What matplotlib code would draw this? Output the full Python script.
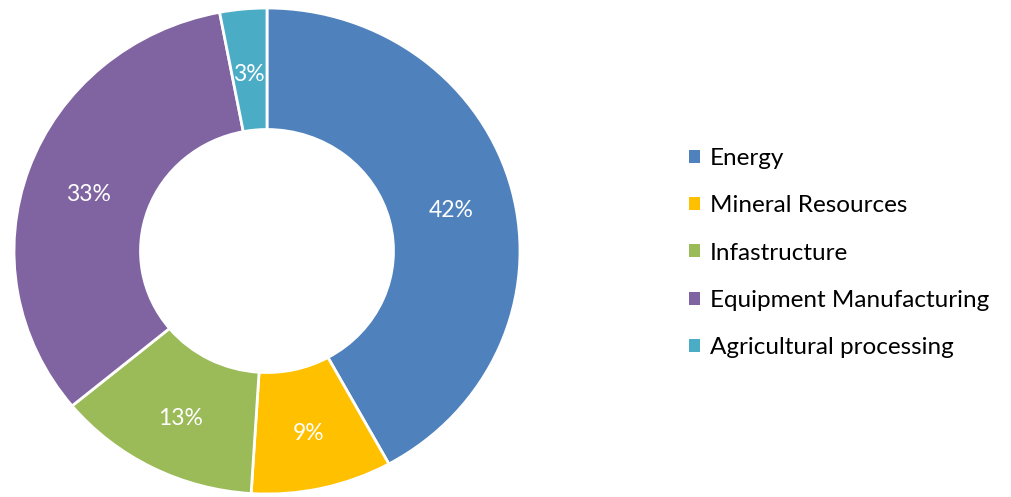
import matplotlib.pyplot as plt
from matplotlib.patches import Patch

plt.rcParams['font.family'] = ['Lato', 'DejaVu Sans']

sectors = ["Energy", "Mineral Resources", "Infastructure",
           "Equipment Manufacturing", "Agricultural processing"]
shares = [42, 9, 13, 33, 3]
colors = ["#4F81BD", "#FFC000", "#9BBB59", "#8064A2", "#4BACC6"]

fig = plt.figure(figsize=(10.11, 4.97), dpi=100)
ax = fig.add_axes([14 / 1011, 3 / 497, 506 / 1011, 486 / 497])

wedges, texts, autotexts = ax.pie(
    shares, colors=colors, startangle=90, counterclock=False,
    autopct="%d%%", pctdistance=0.75,
    wedgeprops=dict(width=0.5, edgecolor="white", linewidth=2),
    textprops=dict(color="white", fontsize=16.5, family=["Lato", "DejaVu Sans"]))
# labels sit a touch lower in the original
for t in autotexts:
    x, y = t.get_position()
    t.set_position((x, y - 0.02))
ax.set_aspect("auto")
ax.set_xlim(-1, 1)
ax.set_ylim(-1, 1)

handles = [Patch(facecolor=c, edgecolor="none") for c in colors]
fig.legend(handles, sectors, loc="upper left", bbox_to_anchor=(689 / 1011, 1 - 148 / 497),
           frameon=False, fontsize=17.5, handlelength=0.45, handleheight=0.45,
           handletextpad=0.42, labelspacing=1.08, borderaxespad=0, borderpad=0)

fig.savefig("out.png", dpi=100)
